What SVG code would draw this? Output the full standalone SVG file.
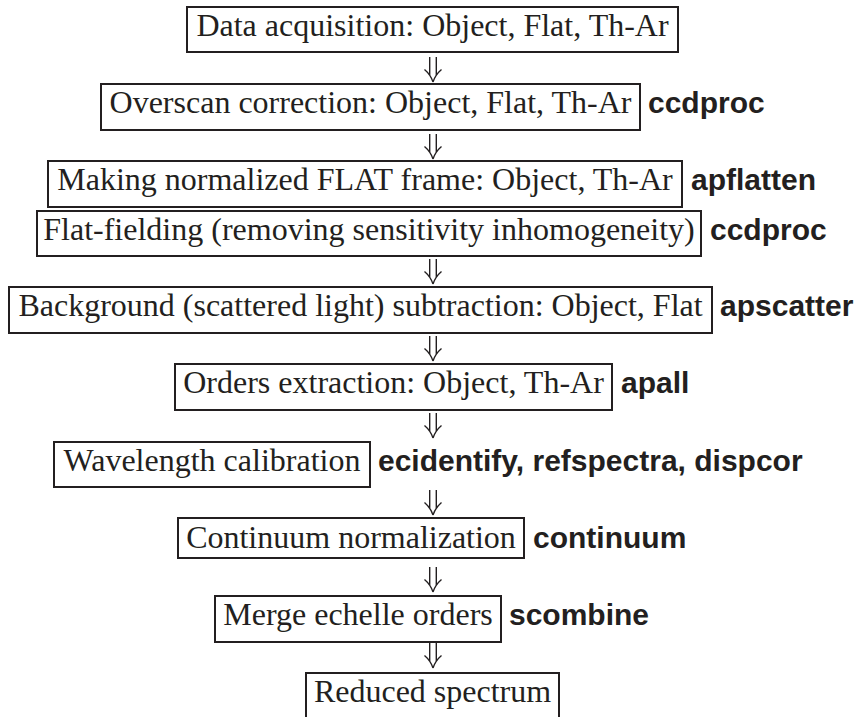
<svg xmlns="http://www.w3.org/2000/svg" width="858" height="717" viewBox="0 0 858 717">
<style>
.box{fill:#fff;stroke:#231f20;stroke-width:2}
.t{font-family:"Liberation Serif","Times New Roman",serif;font-size:32px;fill:#231f20;text-anchor:middle}
.l{font-family:"Liberation Sans",Arial,sans-serif;font-size:30px;font-weight:bold;fill:#231f20}
.arr{fill:none;stroke:#231f20;stroke-width:1.4}
</style>
<defs>
<path id="dar" d="M-3.3,0 V18 M3.3,0 V18 M-8.5,12.5 C-5,15.5 -1.8,19.5 0,25 M8.5,12.5 C5,15.5 1.8,19.5 0,25"/>
</defs>
<rect width="858" height="717" fill="#fff"/>
<g id="connectors" class="arr">
<use href="#dar" x="433" y="57"/>
<use href="#dar" x="433" y="134"/>
<use href="#dar" x="433" y="259"/>
<use href="#dar" x="433" y="336"/>
<use href="#dar" x="433" y="413"/>
<use href="#dar" x="433" y="490"/>
<use href="#dar" x="433" y="567"/>
<use href="#dar" x="433" y="643"/>
</g>
<g id="n1"><rect class="box" x="187" y="7" width="491" height="45"/><text class="t" x="432.5" y="36">Data acquisition: Object, Flat, Th-Ar</text></g>
<g id="n2"><rect class="box" x="101" y="84" width="539" height="46"/><text class="t" x="370.5" y="113">Overscan correction: Object, Flat, Th-Ar</text><text class="l" x="648" y="113">ccdproc</text></g>
<g id="n3"><rect class="box" x="48" y="161" width="634" height="46"/><text class="t" x="365" y="190">Making normalized FLAT frame: Object, Th-Ar</text><text class="l" x="691" y="190">apflatten</text></g>
<g id="n4"><rect class="box" x="37" y="211" width="664" height="45"/><text class="t" x="369" y="240">Flat-fielding (removing sensitivity inhomogeneity)</text><text class="l" x="710" y="240">ccdproc</text></g>
<g id="n5"><rect class="box" x="9" y="287" width="703" height="46"/><text class="t" x="360.5" y="316">Background (scattered light) subtraction: Object, Flat</text><text class="l" x="720" y="316">apscatter</text></g>
<g id="n6"><rect class="box" x="175" y="364" width="437" height="46"/><text class="t" x="393.5" y="393">Orders extraction: Object, Th-Ar</text><text class="l" x="621" y="393">apall</text></g>
<g id="n7"><rect class="box" x="54" y="442" width="316" height="45"/><text class="t" x="212" y="471">Wavelength calibration</text><text class="l" x="378" y="471">ecidentify, refspectra, dispcor</text></g>
<g id="n8"><rect class="box" x="178" y="518" width="346" height="40"/><text class="t" x="351" y="548">Continuum normalization</text><text class="l" x="533" y="548">continuum</text></g>
<g id="n9"><rect class="box" x="215" y="596" width="286" height="46"/><text class="t" x="358" y="625">Merge echelle orders</text><text class="l" x="509" y="625">scombine</text></g>
<g id="n10"><rect class="box" x="306" y="673" width="253" height="46"/><text class="t" x="432.5" y="702">Reduced spectrum</text></g>
</svg>
